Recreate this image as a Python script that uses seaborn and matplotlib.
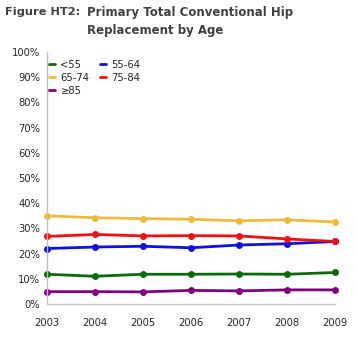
import matplotlib
matplotlib.use("Agg")
import matplotlib.pyplot as plt
import seaborn as sns
import pandas as pd
from matplotlib.lines import Line2D
from matplotlib.ticker import FuncFormatter

years = [2003, 2004, 2005, 2006, 2007, 2008, 2009]
groups = ["<55", "55-64", "65-74", "75-84", "≥85"]
v_lt55 = [11.8, 11.0, 11.8, 11.8, 11.9, 11.8, 12.5]
v_55_64 = [22.0, 22.6, 22.9, 22.3, 23.4, 23.9, 24.8]
v_65_74 = [35.0, 34.2, 33.9, 33.6, 33.0, 33.4, 32.5]
v_75_84 = [26.8, 27.6, 27.0, 27.1, 27.0, 25.8, 24.8]
v_ge85 = [4.9, 4.9, 4.8, 5.4, 5.2, 5.6, 5.6]
colors = ["#0a6a0a", "#1010e0", "#ecbb3a", "#f01010", "#800080"]

series = [v_lt55, v_55_64, v_65_74, v_75_84, v_ge85]
rows = []
for g, vals in zip(groups, series):
    for y, v in zip(years, vals):
        rows.append({"Year": y, "Group": g, "Pct": v})
df = pd.DataFrame(rows)

sns.set_style("white")
plt.rcParams["font.family"] = ["DejaVu Sans"]

fig = plt.figure(figsize=(3.58, 3.43), dpi=100)
ax = fig.add_axes([0.131, 0.1137, 0.805, 0.735])
palette = dict(zip(groups, colors))
sns.lineplot(data=df, x="Year", y="Pct", hue="Group", hue_order=groups,
             palette=palette, marker="o", markersize=5, markeredgewidth=0,
             linewidth=2.0, dashes=False, ax=ax, legend=False)

ax.set_xlim(2003, 2009)
ax.set_ylim(0, 100)
ax.set_xticks(years)
ax.set_xticklabels([str(y) for y in years])
ax.set_yticks(range(0, 101, 10))
ax.yaxis.set_major_formatter(FuncFormatter(lambda v, p: f"{int(v)}%"))
ax.set_xlabel("")
ax.set_ylabel("")
for s in ["top", "right"]:
    ax.spines[s].set_visible(False)
for s in ["left", "bottom"]:
    ax.spines[s].set_color("#c0c0c0")
    ax.spines[s].set_linewidth(1.0)
ax.spines["bottom"].set_zorder(0)
ax.tick_params(axis="both", colors="#c0c0c0", labelcolor="#262626",
               labelsize=7.2, length=3, width=1, direction="out", pad=2)
ax.tick_params(axis="x", pad=7)
for ln in ax.lines:
    ln.set_clip_on(False)

order = [0, 2, 4, 1, 3]
handles = [Line2D([], [], color=colors[i], linewidth=2) for i in order]
labels = [groups[i] for i in order]
ax.legend(handles, labels, ncol=2, loc="upper left", bbox_to_anchor=(-0.005, 0.985),
          frameon=False, fontsize=7.2, handlelength=0.6, handletextpad=0.5,
          columnspacing=1.1, labelspacing=0.3, borderaxespad=0,
          labelcolor="#262626")

fig.text(0.014, 0.965, "Figure HT2:", fontsize=8.2, fontweight="bold",
         color="#404040", va="center", ha="left")
fig.text(0.242, 0.965, "Primary Total Conventional Hip", fontsize=8.5,
         fontweight="bold", color="#404040", va="center", ha="left")
fig.text(0.242, 0.912, "Replacement by Age", fontsize=8.5,
         fontweight="bold", color="#404040", va="center", ha="left")

fig.savefig("out.png", dpi=100, facecolor="white")
